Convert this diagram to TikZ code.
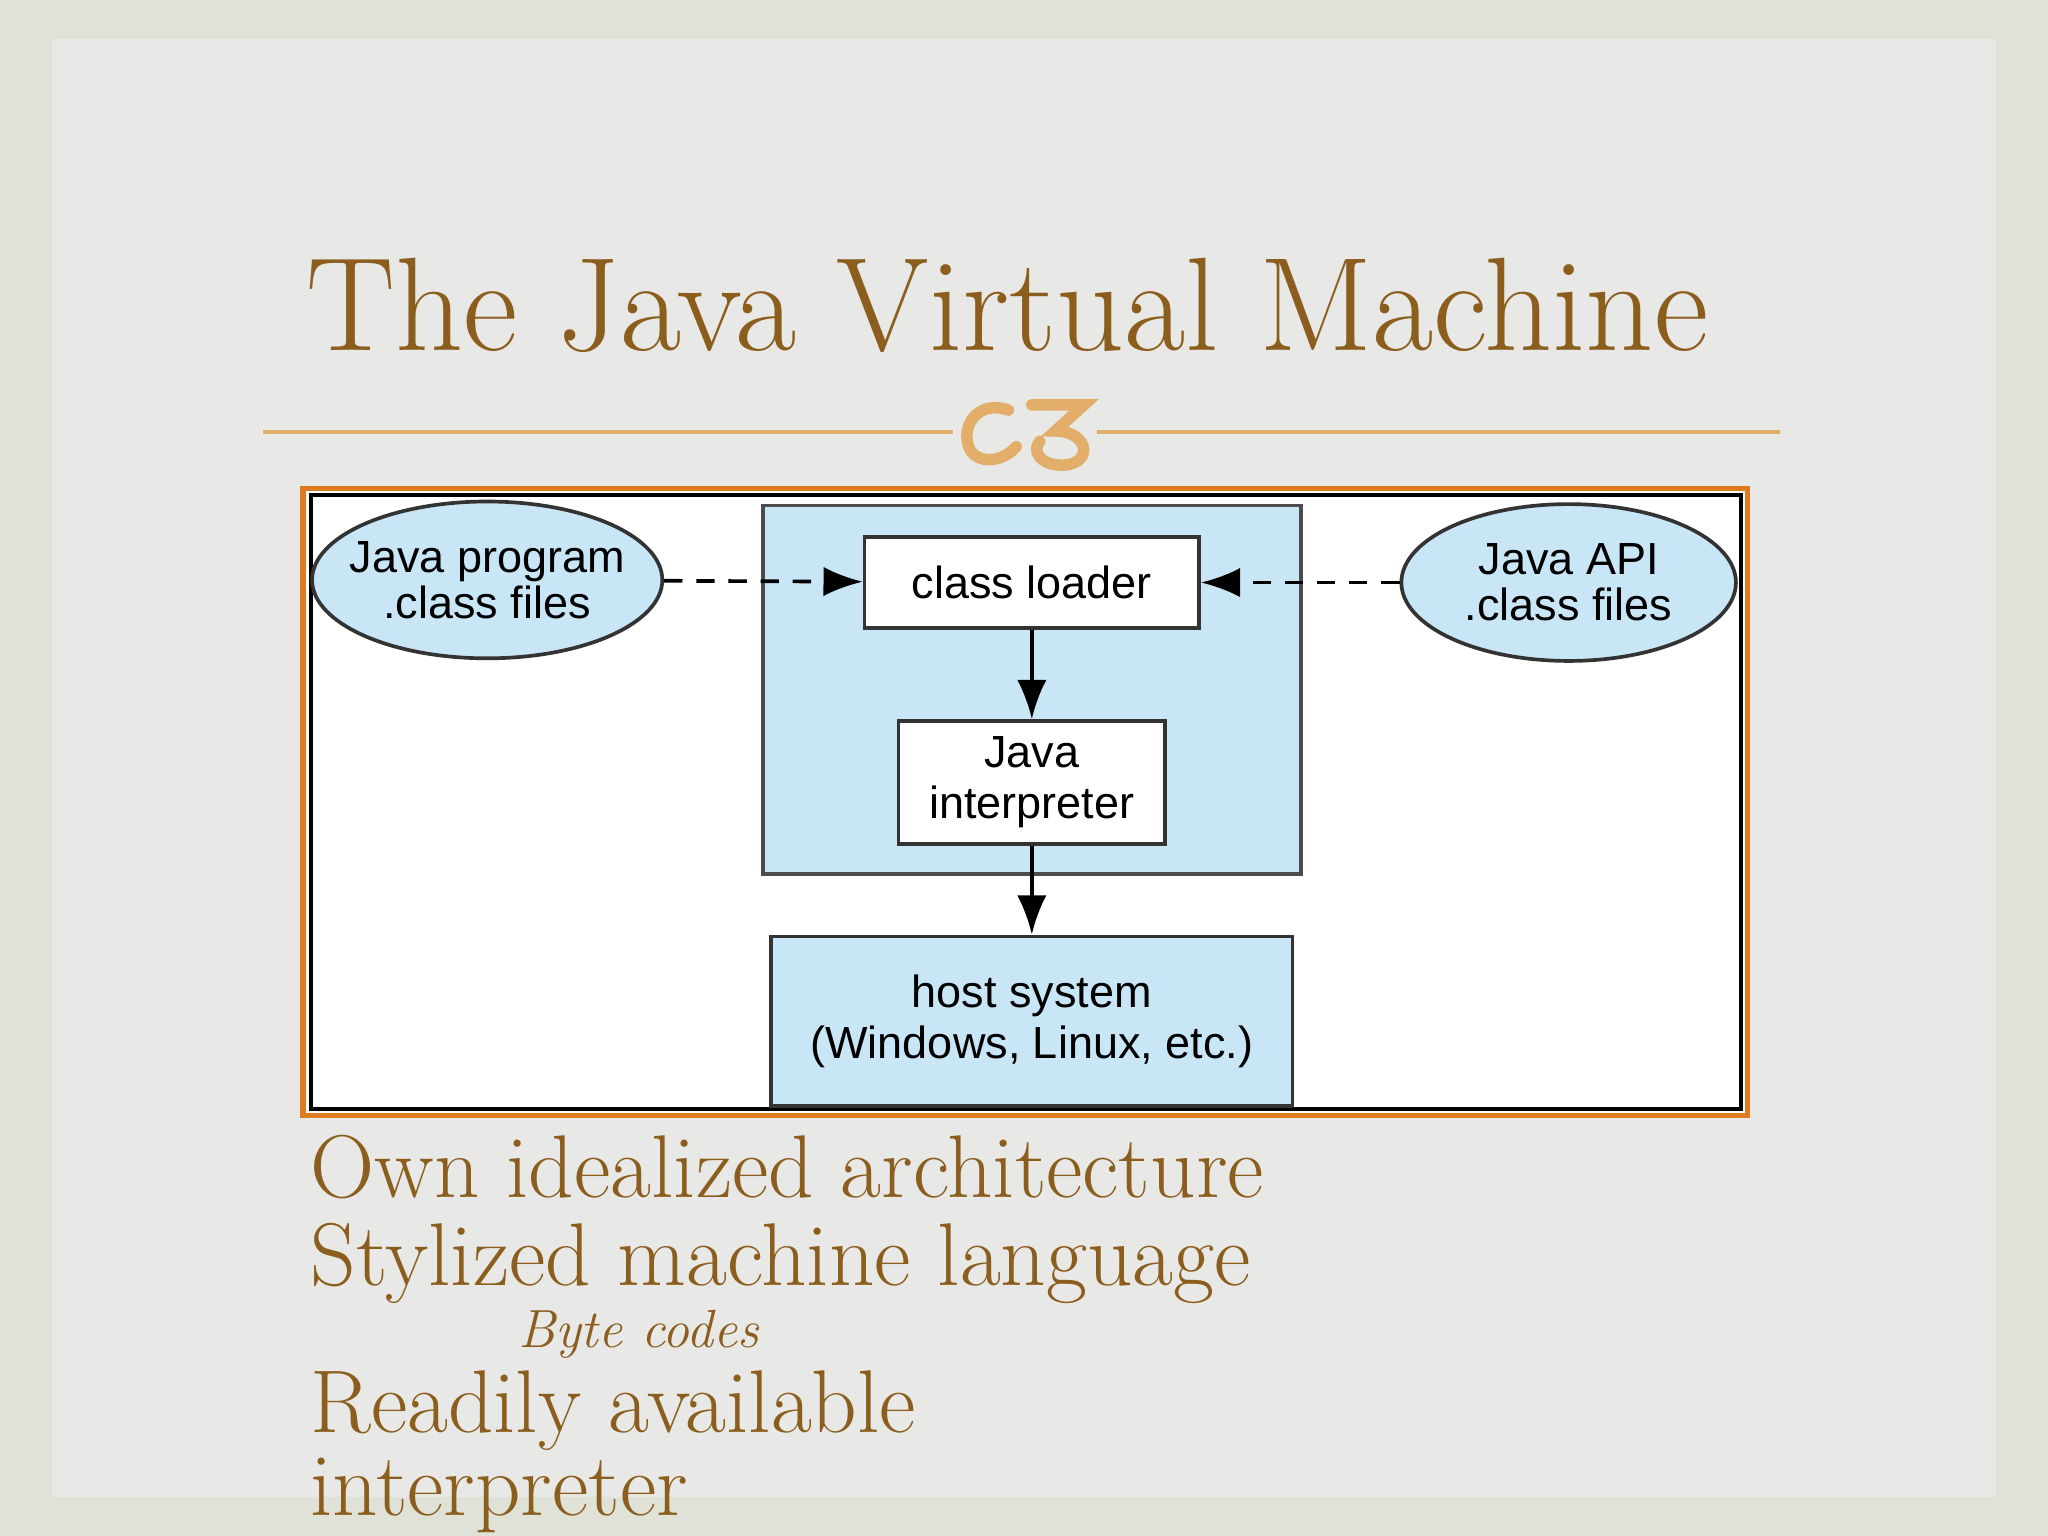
\documentclass[tikz,border=0pt]{standalone}
\usepackage{fontspec}
\newfontfamily\diagfont{Liberation Sans}
\usetikzlibrary{shapes.geometric,arrows.meta,positioning}
\definecolor{slidebg}{HTML}{E8E8E6}
\definecolor{edgebg}{HTML}{E0E2D8}
\definecolor{titlebrown}{HTML}{8C5E1E}
\definecolor{ruleorange}{HTML}{E3AE6A}
\definecolor{frameorange}{HTML}{E07A20}
\definecolor{jvmblue}{HTML}{C8E6F6}
\tikzstyle{box}=[rectangle, draw=black!80, thick, fill=white, align=center, font=\diagfont\fontsize{9.8}{11}\selectfont, inner sep=0pt]
\tikzstyle{blob}=[ellipse, draw=black!80, thick, fill=jvmblue, align=center, font=\diagfont\fontsize{9.8}{10}\selectfont, inner sep=0pt]
\tikzstyle{bullet}=[anchor=base west, inner sep=0pt, text=titlebrown]
\begin{document}
\begin{tikzpicture}[x=0.01cm, y=-0.01cm]
	\fill[edgebg] (0,0) rectangle (1568,1176);
	\fill[slidebg] (40,30) rectangle (1528,1146);
	\useasboundingbox (0,0) rectangle (1568,1176);

	% title
	\node[anchor=base, text=titlebrown, inner sep=0pt, font=\fontsize{29}{34}\selectfont] (title) at (771,268) {The Java Virtual Machine};
	\coordinate (ruleL) at (201,331);
	\coordinate (ruleR) at (1363,331);
	\draw[ruleorange, thick] (ruleL) -- (ruleR);
	\fill[slidebg] (730,300) rectangle (840,362);
	\draw[ruleorange, line width=2.5pt, line cap=round] (772,314) .. controls (750,306) and (735,325) .. (742,343) .. controls (748,356) and (768,354) .. (778,342);
	\draw[ruleorange, line width=2.5pt, line cap=round] (790,310) -- (830,310) -- (808,330) .. controls (835,330) and (838,358) .. (810,356) .. controls (796,355) and (790,345) .. (796,338);

	% diagram frame
	\draw[frameorange, line width=1.2pt, fill=white] (232,374) rectangle (1338,854);
	\draw[black, line width=1pt] (238,379) rectangle (1333,849);
	\fill[jvmblue, draw=black!70, thick] (584,387) rectangle (996,669);

	\node[box, minimum width=2.56cm, minimum height=0.70cm] (loader) at (790,446) {class loader};
	\node[box, minimum width=2.04cm, minimum height=0.94cm] (interp) at (790,599) {Java\\interpreter};
	\node[box, fill=jvmblue, minimum width=3.99cm, minimum height=1.30cm] (host) at (790,782) {host system\\(Windows, Linux, etc.)};
	\node[blob, minimum width=2.68cm, minimum height=1.20cm, inner xsep=-4pt] (prog) at (373,444) {Java program\\.class files};
	\node[blob, minimum width=2.56cm, minimum height=1.20cm, inner xsep=-4pt] (api) at (1201,446) {Java API\\.class files};

	\draw[-{Latex[length=3mm]}, thick, dash pattern=on 4pt off 3pt] (prog) -- (loader);
	\draw[-{Latex[length=3mm]}, thick, dash pattern=on 4pt off 3pt] (api) -- (loader);
	\draw[-{Latex[length=3mm]}, thick] (loader) -- (interp);
	\draw[-{Latex[length=3mm]}, thick] (interp) -- (host);

	% bullets
	\node[bullet, font=\fontsize{19.4}{22}\selectfont] (own) at (237,917) {Own idealized architecture};
	\node[bullet, font=\fontsize{19.4}{22}\selectfont] (styl) at (237,984) {Stylized machine language};
	\node[bullet, font=\itshape\fontsize{11.7}{14}\selectfont] (byte) at (396,1032) {Byte codes};
	\node[bullet, font=\fontsize{19.4}{22}\selectfont] (ready) at (237,1097) {Readily available};
	\node[bullet, font=\fontsize{19.4}{22}\selectfont] (interpw) at (237,1160) {interpreter};
\end{tikzpicture}
\end{document}
